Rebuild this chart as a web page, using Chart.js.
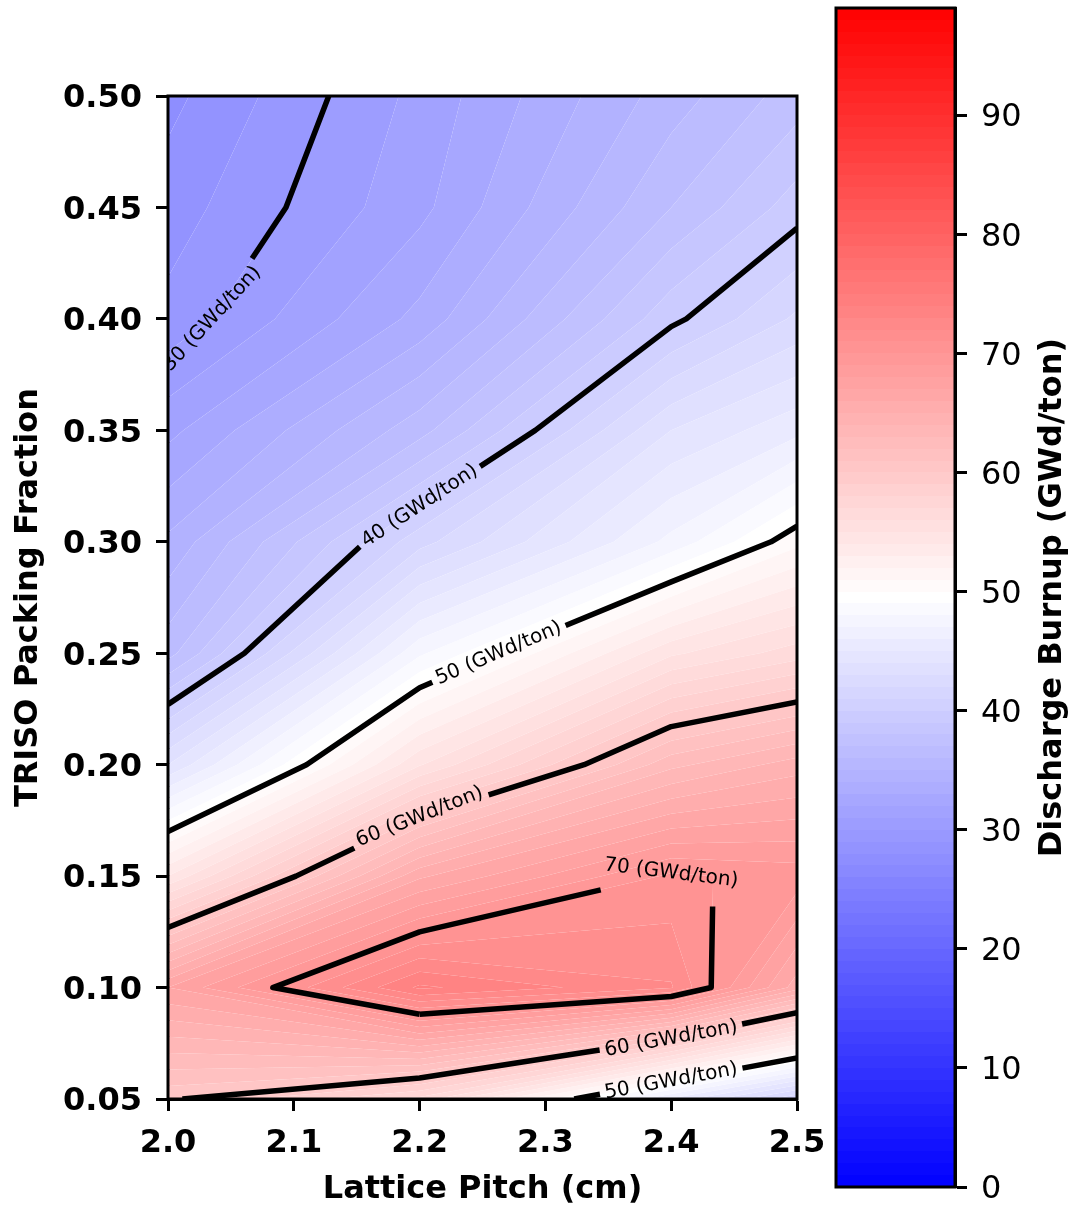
<!DOCTYPE html>
<html>
<head>
<meta charset="utf-8">
<script src="https://cdn.jsdelivr.net/npm/chart.js@4.4.1/dist/chart.umd.min.js"></script>
<style>
  html, body { margin: 0; padding: 0; background: #fff; }
  #wrap { position: relative; width: 1079px; height: 1209px; }
  #plot { position: absolute; left: 0; top: 0; }
  #cbar { position: absolute; left: 830px; top: 0; }
</style>
</head>
<body>
<div id="wrap">
  <canvas id="plot" width="830" height="1209"></canvas>
  <canvas id="cbar" width="249" height="1209"></canvas>
</div>
<script>
// grid the burnup was computed on
const pitch = [2.0, 2.2, 2.4, 2.5];
const packing = [0.05, 0.10, 0.15, 0.20, 0.25, 0.30, 0.35, 0.40, 0.45, 0.50];

// discharge burnup (GWd/ton) along packing fraction, one array per pitch
const burnup20 = [60.2, 67.0, 54.0, 44.0, 36.6, 34.2, 31.7, 29.3, 28.5, 27.7];
const burnup22 = [56.7, 74.2, 65.8, 54.9, 47.8, 41.6, 36.6, 33.3, 31.7, 31.3];
const burnup24 = [45.8, 72.1, 70.2, 62.7, 54.8, 47.3, 44.0, 39.7, 37.0, 35.5];
const burnup25 = [41.0, 65.5, 69.6, 64.5, 56.5, 50.7, 45.7, 42.2, 39.5, 37.5];
const grid = [burnup20, burnup22, burnup24, burnup25];

// contour lines and filled levels
const lineLevels = [30, 40, 50, 60, 70];
const fillMin = 0, fillMax = 99, fillStep = 1;

// ticks
const xTicks = [2.0, 2.1, 2.2, 2.3, 2.4, 2.5];
const yTicks = [0.05, 0.10, 0.15, 0.20, 0.25, 0.30, 0.35, 0.40, 0.45, 0.50];
const cbTicks = [0, 10, 20, 30, 40, 50, 60, 70, 80, 90];

// roughly where each contour label sits: level, pitch, packing fraction
const labelSpots = [[30, 2.04, 0.40], [40, 2.2, 0.32], [50, 2.26, 0.25], [60, 2.2, 0.17],
                    [70, 2.4, 0.15], [60, 2.4, 0.08], [50, 2.4, 0.06]];

const FONT = 'DejaVu Sans';
const tickFont = { family: FONT, size: 32, weight: 'bold' };
const titleFont = { family: FONT, size: 32, weight: 'bold' };

// matplotlib "bwr"
function bwr(t) {
  t = Math.max(0, Math.min(1, t));
  if (t < 0.5) {
    const c = Math.round(510 * t);
    return `rgb(${c},${c},255)`;
  }
  const c = Math.round(510 * (1 - t));
  return `rgb(255,${c},${c})`;
}

// clip a polygon (with values on the vertices) to v >= level or v <= level
function clip(poly, level, above) {
  const out = [];
  for (let k = 0; k < poly.length; k++) {
    const a = poly[k], b = poly[(k + 1) % poly.length];
    const ina = above ? a.v >= level : a.v <= level;
    const inb = above ? b.v >= level : b.v <= level;
    if (ina) out.push(a);
    if (ina !== inb) {
      const t = (level - a.v) / (b.v - a.v);
      out.push({ x: a.x + t * (b.x - a.x), y: a.y + t * (b.y - a.y), v: level });
    }
  }
  return out;
}

// marching squares, returns polylines in data coords
function traceLevel(level) {
  const segs = [];
  const cross = (i0, j0, i1, j1, key) => {
    const va = grid[i0][j0], vb = grid[i1][j1];
    if ((va < level) === (vb < level)) return null;
    const t = (level - va) / (vb - va);
    return { key, x: pitch[i0] + t * (pitch[i1] - pitch[i0]), y: packing[j0] + t * (packing[j1] - packing[j0]) };
  };
  for (let i = 0; i < pitch.length - 1; i++) {
    for (let j = 0; j < packing.length - 1; j++) {
      const c = [
        cross(i, j, i + 1, j, `h${i}_${j}`),
        cross(i + 1, j, i + 1, j + 1, `v${i + 1}_${j}`),
        cross(i, j + 1, i + 1, j + 1, `h${i}_${j + 1}`),
        cross(i, j, i, j + 1, `v${i}_${j}`)
      ];
      const hit = c.filter(p => p);
      if (hit.length === 2) segs.push(hit);
      if (hit.length === 4) {
        const mid = (grid[i][j] + grid[i + 1][j] + grid[i + 1][j + 1] + grid[i][j + 1]) / 4;
        if ((mid < level) === (grid[i][j] < level)) { segs.push([c[0], c[1]]); segs.push([c[2], c[3]]); }
        else { segs.push([c[3], c[0]]); segs.push([c[1], c[2]]); }
      }
    }
  }
  const byKey = {};
  segs.forEach((s, n) => s.forEach(p => (byKey[p.key] = byKey[p.key] || []).push(n)));
  const used = segs.map(() => false);
  const lines = [];
  while (used.includes(false)) {
    let n = segs.findIndex((s, m) => !used[m] && s.some(p => byKey[p.key].length === 1));
    if (n < 0) n = used.indexOf(false);
    let cur = segs[n][0];
    if (byKey[segs[n][1].key].length === 1 && byKey[cur.key].length !== 1) cur = segs[n][1];
    const line = [cur];
    while (n >= 0) {
      used[n] = true;
      const other = segs[n][0].key === cur.key ? segs[n][1] : segs[n][0];
      line.push(other);
      cur = other;
      n = byKey[cur.key].find(m => !used[m]);
      if (n === undefined) n = -1;
    }
    lines.push(line);
  }
  return lines;
}

function pointAt(pts, cum, s) {
  const L = cum[cum.length - 1];
  s = Math.max(0, Math.min(L, s));
  for (let k = 0; k < pts.length - 1; k++) {
    if (s <= cum[k + 1]) {
      const d = cum[k + 1] - cum[k] || 1;
      const t = (s - cum[k]) / d;
      return { x: pts[k].x + t * (pts[k + 1].x - pts[k].x), y: pts[k].y + t * (pts[k + 1].y - pts[k].y) };
    }
  }
  return pts[pts.length - 1];
}

function cumLen(pts) {
  const cum = [0];
  for (let k = 1; k < pts.length; k++) cum.push(cum[k - 1] + Math.hypot(pts[k].x - pts[k - 1].x, pts[k].y - pts[k - 1].y));
  return cum;
}

const contourPlugin = {
  id: 'contour',
  beforeDatasetsDraw(chart) {
    const { ctx, chartArea: a, scales: { x, y } } = chart;
    ctx.save();
    ctx.beginPath();
    ctx.rect(a.left, a.top, a.right - a.left, a.bottom - a.top);
    ctx.clip();

    // filled contour bands
    const node = (p, q) => ({ x: x.getPixelForValue(pitch[p]), y: y.getPixelForValue(packing[q]), v: grid[p][q] });
    const cells = [];
    for (let i = 0; i < pitch.length - 1; i++)
      for (let j = 0; j < packing.length - 1; j++)
        cells.push([node(i, j), node(i + 1, j), node(i + 1, j + 1), node(i, j + 1)]);
    for (let lo = fillMin; lo < fillMax; lo += fillStep) {
      const hi = lo + fillStep;
      const path = new Path2D();
      let any = false;
      cells.forEach(c => {
        const poly = clip(clip(c, lo, true), hi, false);
        if (poly.length < 3) return;
        any = true;
        path.moveTo(poly[0].x, poly[0].y);
        poly.slice(1).forEach(p => path.lineTo(p.x, p.y));
        path.closePath();
      });
      if (any) {
        ctx.fillStyle = bwr(((lo + hi) / 2 - fillMin) / (fillMax - fillMin));
        ctx.fill(path);
      }
    }

    // contour lines in pixels
    const lines = [];
    lineLevels.forEach(level => {
      traceLevel(level).forEach(line => {
        const pts = line.map(p => ({ x: x.getPixelForValue(p.x), y: y.getPixelForValue(p.y) }));
        const closed = line.length > 2 && line[0].key === line[line.length - 1].key;
        lines.push({ level, pts, closed, cuts: [], labels: [] });
      });
    });

    // labels: snap to nearest vertex
    ctx.font = `20px ${FONT}`;
    labelSpots.forEach(([level, px, py]) => {
      const tx = x.getPixelForValue(px), ty = y.getPixelForValue(py);
      let best = null;
      lines.filter(l => l.level === level).forEach(l => {
        l.pts.forEach((p, k) => {
          const d = Math.hypot(p.x - tx, p.y - ty);
          if (!best || d < best.d) best = { d, l, k };
        });
      });
      if (!best) return;
      const l = best.l;
      let k = best.k;
      if (l.closed) {
        const n = l.pts.length - 1;
        const s = (k - Math.floor(n / 2) + n) % n;
        const rot = [];
        for (let m = 0; m < n; m++) rot.push(l.pts[(s + m) % n]);
        rot.push(rot[0]);
        l.pts = rot;
        k = Math.floor(n / 2);
      }
      l.labels.push(k);
    });

    ctx.strokeStyle = '#000';
    ctx.lineWidth = 5.5;
    ctx.lineJoin = 'round';
    ctx.lineCap = 'butt';
    const texts = [];
    lines.forEach(l => {
      const cum = cumLen(l.pts);
      const L = cum[cum.length - 1];
      l.labels.forEach(k => {
        const text = `${l.level} (GWd/ton)`;
        const hw = ctx.measureText(text).width / 2;
        const s0 = cum[k];
        const p0 = pointAt(l.pts, cum, s0 - hw), p1 = pointAt(l.pts, cum, s0 + hw);
        let ang = Math.atan2(p1.y - p0.y, p1.x - p0.x);
        if (ang > Math.PI / 2) ang -= Math.PI;
        if (ang < -Math.PI / 2) ang += Math.PI;
        l.cuts.push([s0 - hw - 5, s0 + hw + 5]);
        texts.push({ text, x: l.pts[k].x, y: l.pts[k].y, ang });
      });
      l.cuts.sort((u, v) => u[0] - v[0]);
      let start = 0;
      const spans = [];
      l.cuts.forEach(([c0, c1]) => { if (c0 > start) spans.push([start, c0]); start = Math.max(start, c1); });
      if (start < L) spans.push([start, L]);
      spans.forEach(([s0, s1]) => {
        ctx.beginPath();
        const q0 = pointAt(l.pts, cum, s0);
        ctx.moveTo(q0.x, q0.y);
        for (let m = 0; m < l.pts.length; m++) if (cum[m] > s0 && cum[m] < s1) ctx.lineTo(l.pts[m].x, l.pts[m].y);
        const q1 = pointAt(l.pts, cum, s1);
        ctx.lineTo(q1.x, q1.y);
        ctx.stroke();
      });
    });

    ctx.fillStyle = '#000';
    ctx.textAlign = 'center';
    ctx.textBaseline = 'middle';
    texts.forEach(t => {
      ctx.save();
      ctx.translate(t.x, t.y);
      ctx.rotate(t.ang);
      ctx.fillText(t.text, 0, 0);
      ctx.restore();
    });
    ctx.restore();
  },
  afterDraw(chart) {
    const { ctx, chartArea: a } = chart;
    ctx.save();
    ctx.strokeStyle = '#000';
    ctx.lineWidth = 3;
    ctx.strokeRect(a.left, a.top, a.right - a.left, a.bottom - a.top);
    ctx.restore();
  }
};

const nodes = [];
pitch.forEach((p, i) => packing.forEach((f, j) => nodes.push({ x: p, y: f, v: grid[i][j] })));

new Chart(document.getElementById('plot'), {
  type: 'scatter',
  data: { datasets: [{ data: nodes, pointRadius: 0, pointHoverRadius: 0 }] },
  options: {
    responsive: false,
    animation: false,
    devicePixelRatio: 1,
    events: [],
    layout: { padding: { left: 0, right: 33, top: 96, bottom: 0 } },
    plugins: { legend: { display: false }, tooltip: { enabled: false } },
    scales: {
      x: {
        type: 'linear', min: 2.0, max: 2.5,
        afterBuildTicks: s => { s.ticks = xTicks.map(v => ({ value: v })); },
        afterFit: s => { s.height = 110; s.paddingLeft = 0; s.paddingRight = 0; },
        ticks: { callback: v => Number(v).toFixed(1), font: tickFont, color: '#000', padding: 13, maxRotation: 0, autoSkip: false },
        grid: { drawOnChartArea: false, tickLength: 12, tickWidth: 3, tickColor: '#000' },
        border: { display: true, color: '#000', width: 3 },
        title: { display: true, text: 'Lattice Pitch (cm)', font: titleFont, color: '#000', padding: { top: 0, bottom: 0 } }
      },
      y: {
        type: 'linear', min: 0.05, max: 0.50,
        afterBuildTicks: s => { s.ticks = yTicks.map(v => ({ value: v })); },
        afterFit: s => { s.width = 168; s.paddingTop = 0; s.paddingBottom = 0; },
        ticks: { callback: v => Number(v).toFixed(2), font: tickFont, color: '#000', padding: 14, labelOffset: 3, autoSkip: false },
        grid: { drawOnChartArea: false, tickLength: 12, tickWidth: 3, tickColor: '#000' },
        border: { display: true, color: '#000', width: 3 },
        title: { display: true, text: 'TRISO Packing Fraction', font: titleFont, color: '#000', padding: { top: 9, bottom: 0 } }
      }
    }
  },
  plugins: [contourPlugin]
});

// colorbar
const cbarLabel = 'Discharge Burnup (GWd/ton)';
const cbarPlugin = {
  id: 'cbar',
  beforeDatasetsDraw(chart) {
    const { ctx, chartArea: a, scales: { y } } = chart;
    ctx.save();
    for (let lo = fillMin; lo < fillMax; lo += fillStep) {
      const hi = lo + fillStep;
      const yt = Math.round(y.getPixelForValue(hi)), yb = Math.round(y.getPixelForValue(lo));
      ctx.fillStyle = bwr(((lo + hi) / 2 - fillMin) / (fillMax - fillMin));
      ctx.fillRect(a.left, yt, a.right - a.left, yb - yt);
    }
    ctx.restore();
  },
  afterDraw(chart) {
    const { ctx, chartArea: a } = chart;
    ctx.save();
    ctx.strokeStyle = '#000';
    ctx.lineWidth = 3;
    ctx.strokeRect(a.left, a.top, a.right - a.left, a.bottom - a.top);
    ctx.translate(223, (a.top + a.bottom) / 2);
    ctx.rotate(-Math.PI / 2);
    ctx.font = `bold 32px ${FONT}`;
    ctx.fillStyle = '#000';
    ctx.textAlign = 'center';
    ctx.textBaseline = 'middle';
    ctx.fillText(cbarLabel, 0, 0);
    ctx.restore();
  }
};

new Chart(document.getElementById('cbar'), {
  type: 'scatter',
  data: { datasets: [] },
  options: {
    responsive: false,
    animation: false,
    devicePixelRatio: 1,
    events: [],
    layout: { padding: { left: 6, right: 0, top: 8, bottom: 22 } },
    plugins: { legend: { display: false }, tooltip: { enabled: false } },
    scales: {
      x: { display: false, min: 0, max: 1 },
      y: {
        position: 'right', min: fillMin, max: fillMax,
        afterBuildTicks: s => { s.ticks = cbTicks.map(v => ({ value: v })); },
        afterFit: s => { s.width = 124; s.paddingTop = 0; s.paddingBottom = 0; },
        ticks: { font: { family: FONT, size: 32 }, color: '#000', padding: 14, labelOffset: 3, autoSkip: false },
        grid: { drawOnChartArea: false, tickLength: 12, tickWidth: 3, tickColor: '#000' },
        border: { display: true, color: '#000', width: 3 }
      }
    }
  },
  plugins: [cbarPlugin]
});
</script>
</body>
</html>
